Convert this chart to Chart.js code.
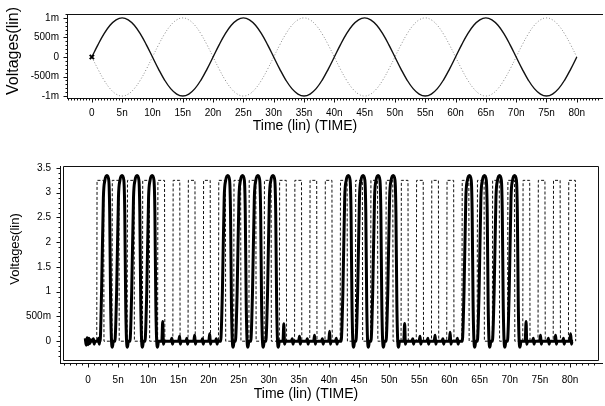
<!DOCTYPE html>
<html><head><meta charset="utf-8">
<script src="https://cdn.jsdelivr.net/npm/chart.js@4"></script>
<style>
html,body{margin:0;padding:0;background:#fff;}
body{width:605px;height:406px;position:relative;overflow:hidden;}
#c1{position:absolute;left:0;top:0;}
#c2{position:absolute;left:0;top:145px;}
</style></head><body>
<canvas id="c1" width="605" height="145"></canvas>
<canvas id="c2" width="605" height="261"></canvas>
<script>
// ---------- DATA ----------
const timeTicksNs = [0,5,10,15,20,25,30,35,40,45,50,55,60,65,70,75,80];
const timeTickLabels = ['0','5n','10n','15n','20n','25n','30n','35n','40n','45n','50n','55n','60n','65n','70n','75n','80n'];

// top chart: sampled every 1 ns (mV)
const sineTimesNs = [0,1,2,3,4,5,6,7,8,9,10,11,12,13,14,15,16,17,18,19,20,21,22,23,24,25,26,27,28,29,30,31,32,33,34,35,36,37,38,39,40,41,42,43,44,45,46,47,48,49,50,51,52,53,54,55,56,57,58,59,60,61,62,63,64,65,66,67,68,69,70,71,72,73,74,75,76,77,78,79,80];
const sineSolidMv = [0,0.31,0.59,0.81,0.95,1,0.95,0.81,0.59,0.31,0,-0.31,-0.59,-0.81,-0.95,-1,-0.95,-0.81,-0.59,-0.31,
  0,0.31,0.59,0.81,0.95,1,0.95,0.81,0.59,0.31,0,-0.31,-0.59,-0.81,-0.95,-1,-0.95,-0.81,-0.59,-0.31,
  0,0.31,0.59,0.81,0.95,1,0.95,0.81,0.59,0.31,0,-0.31,-0.59,-0.81,-0.95,-1,-0.95,-0.81,-0.59,-0.31,
  0,0.31,0.59,0.81,0.95,1,0.95,0.81,0.59,0.31,0,-0.31,-0.59,-0.81,-0.95,-1,-0.95,-0.81,-0.59,-0.31,0];
const sineDottedMv = [0,-0.31,-0.59,-0.81,-0.95,-1,-0.95,-0.81,-0.59,-0.31,0,0.31,0.59,0.81,0.95,1,0.95,0.81,0.59,0.31,
  0,-0.31,-0.59,-0.81,-0.95,-1,-0.95,-0.81,-0.59,-0.31,0,0.31,0.59,0.81,0.95,1,0.95,0.81,0.59,0.31,
  0,-0.31,-0.59,-0.81,-0.95,-1,-0.95,-0.81,-0.59,-0.31,0,0.31,0.59,0.81,0.95,1,0.95,0.81,0.59,0.31,
  0,-0.31,-0.59,-0.81,-0.95,-1,-0.95,-0.81,-0.59,-0.31,0,0.31,0.59,0.81,0.95,1,0.95,0.81,0.59,0.31,0];
const topYTicks = [-1,-0.5,0,0.5,1];
const topYTickLabels = ['-1m','-500m','0','500m','1m'];

// bottom chart: dashed clock (rising edges, ns), high level (V), high time (ns)
const clockRiseNs = [1.45,3.98,6.5,9.03,11.55,14.08,16.6,19.13,21.65,24.18,26.7,29.23,31.75,34.28,36.8,39.33,
  41.85,44.38,46.9,49.43,51.95,54.48,57.0,59.53,62.05,64.58,67.1,69.63,72.15,74.68,77.2,79.73];
const clockHighV = 3.25;
const clockHighNs = 1.15;
// bottom chart: thick output pulses (peak times, ns) and pulse outline
const pulsePeakNs = [3.15,5.65,8.15,10.65, 23.2,25.65,28.2,30.7, 43.2,45.65,48.15,50.65, 63.3,65.8,68.3,70.8];
const pulseShapeDtNs = [-1.2,-0.9,-0.6,-0.35,0,0.3,0.45,0.6,0.75,0.9,1.05];
const pulseShapeV = [0,1.0,2.9,3.25,3.35,3.25,2.6,0.8,0,-0.12,0];
// small glitches on the low level
const glitchNs = [0.9,1.75, 12.4,13.9,15.2,16.4,17.7,19.0,20.2,21.3, 32.5,33.9,35.1,36.4,37.6,38.9,40.1,41.2,
  52.55,53.9,55.1,56.4,57.6,58.9,60.1,61.3, 72.7,73.9,75.1,76.4,77.6,78.9,80.1];
const glitchV = [0.05,0.06, 0.4,0.06,0.1,0.06,0.12,0.05,0.15,0.05, 0.35,0.05,0.1,0.05,0.12,0.05,0.2,0.06,
  0.36,0.05,0.1,0.06,0.12,0.05,0.18,0.06, 0.4,0.06,0.12,0.06,0.12,0.06,0.15];
const startNoiseNs = [-0.45,-0.3,-0.15,0,0.15,0.3,0.45,0.6];
const startNoiseV = [0.06,-0.08,0.07,-0.07,0.06,-0.05,0.03,0];
const solidEndNs = 80.5;
const bottomYTicks = [0,0.5,1,1.5,2,2.5,3,3.5];
const bottomYTickLabels = ['0','500m','1','1.5','2','2.5','3','3.5'];

// ---------- BUILD ----------
const FONT = '"Liberation Sans", Arial, sans-serif';
Chart.defaults.font.family = FONT;
Chart.defaults.color = '#000';

const topSolid = sineTimesNs.map((t,i)=>({x:t,y:sineSolidMv[i]}));
const topDotted = sineTimesNs.map((t,i)=>({x:t,y:sineDottedMv[i]}));

const clockPts = [{x:0,y:0}];
clockRiseNs.forEach(r=>{
  clockPts.push({x:r,y:0},{x:r+0.05,y:clockHighV},{x:r+clockHighNs,y:clockHighV},{x:r+clockHighNs+0.05,y:0});
});

const solidPts = [];
startNoiseNs.forEach((t,i)=>solidPts.push({x:t,y:startNoiseV[i]}));
pulsePeakNs.forEach(p=>pulseShapeDtNs.forEach((d,i)=>solidPts.push({x:+(p+d).toFixed(3),y:pulseShapeV[i]})));
glitchNs.forEach((t,i)=>{
  solidPts.push({x:t-0.15,y:0},{x:t,y:glitchV[i]},{x:t+0.12,y:-0.06},{x:t+0.25,y:0});
});
solidPts.push({x:solidEndNs,y:0});
solidPts.sort((a,b)=>a.x-b.x);

function fixedTicks(vals){ return s=>{ s.ticks = vals.map(v=>({value:v})); }; }

function decor(opts){
  return {
    id:'decor',
    afterDraw(chart){
      const ctx = chart.ctx, a = chart.chartArea, xs = chart.scales.x, ys = chart.scales.y;
      ctx.save();
      ctx.strokeStyle = '#111'; ctx.lineWidth = 1;
      ctx.beginPath();
      if (opts.box){
        ctx.rect(a.left+0.5, a.top+0.5, a.right-a.left-1, a.bottom-a.top);
      } else {
        ctx.moveTo(a.left+0.5, a.top+0.5); ctx.lineTo(a.left+0.5, a.bottom+0.5);
        ctx.moveTo(a.left, a.top+0.5); ctx.lineTo(603, a.top+0.5);
      }
      const ax = a.bottom + opts.axOff + 0.5;
      const ay = a.left - opts.axOff + 0.5;
      ctx.moveTo(ay-0.5, ax); ctx.lineTo(603, ax);
      ctx.moveTo(ay, a.top); ctx.lineTo(ay, ax);
      for (let i = Math.ceil(xs.min/opts.xStep); i*opts.xStep <= xs.max; i++){
        const t = i*opts.xStep;
        const px = Math.round(xs.getPixelForValue(t))+0.5;
        const major = Math.abs(t/5 - Math.round(t/5)) < 1e-6;
        ctx.moveTo(px, ax); ctx.lineTo(px, ax + (major?4:2));
      }
      for (let i = Math.ceil(ys.min/opts.yStep); i*opts.yStep <= ys.max; i++){
        const v = i*opts.yStep;
        const py = Math.round(ys.getPixelForValue(v))+0.5;
        const major = Math.abs(v/opts.yMajor - Math.round(v/opts.yMajor)) < 1e-6;
        ctx.moveTo(ay, py); ctx.lineTo(ay - (major?4:2), py);
      }
      ctx.stroke();
      ctx.fillStyle = '#000';
      ctx.textAlign = 'center'; ctx.textBaseline = 'middle';
      ctx.font = opts.xTitleFont;
      ctx.fillText('Time (lin) (TIME)', opts.xTitlePos[0], opts.xTitlePos[1]);
      ctx.translate(opts.yTitlePos[0], opts.yTitlePos[1]);
      ctx.rotate(-Math.PI/2);
      ctx.font = opts.yTitleFont;
      ctx.fillText('Voltages(lin)', 0, 0);
      ctx.restore();
    }
  };
}

// ---------- TOP CHART ----------
new Chart(document.getElementById('c1'), {
  type:'line',
  data:{datasets:[
    {data:topSolid, borderColor:'#111', borderWidth:1.4, tension:0.4, fill:false,
     pointRadius:c=>c.dataIndex===0?3:0, pointStyle:'crossRot', pointBorderWidth:2, pointBorderColor:'#000'},
    {data:topDotted, borderColor:'#8a8a8a', borderWidth:1, borderDash:[1,2], tension:0.4, fill:false, pointRadius:0}
  ]},
  options:{
    responsive:false, animation:false, devicePixelRatio:1,
    layout:{padding:{top:7,right:7,left:0,bottom:0}},
    plugins:{legend:{display:false}, tooltip:{enabled:false}},
    scales:{
      x:{type:'linear', min:-4.1, max:83.5,
         afterBuildTicks:fixedTicks(timeTicksNs),
         afterFit:s=>{s.height=47;},
         grid:{display:false, drawTicks:false}, border:{display:false},
         ticks:{autoSkip:false, maxRotation:0, padding:9, font:{size:10}, color:'#000',
                callback:(v,i)=>timeTickLabels[i]}},
      y:{type:'linear', min:-1.05, max:1.1,
         afterBuildTicks:fixedTicks(topYTicks),
         afterFit:s=>{s.width=67;},
         grid:{display:false, drawTicks:false}, border:{display:false},
         ticks:{padding:8, font:{size:10}, color:'#000', callback:(v,i)=>topYTickLabels[i]}}
    }
  },
  plugins:[decor({box:false, axOff:0, xStep:0.5, yStep:0.1, yMajor:0.5,
    xTitleFont:'14px '+FONT, xTitlePos:[305,126], yTitleFont:'16px '+FONT, yTitlePos:[14,51]})]
});

// ---------- BOTTOM CHART ----------
new Chart(document.getElementById('c2'), {
  type:'line',
  data:{datasets:[
    {data:solidPts, borderColor:'#000', borderWidth:3, cubicInterpolationMode:'monotone', fill:false, pointRadius:0},
    {data:clockPts, borderColor:'#111', borderWidth:1, borderDash:[3,2], tension:0, fill:false, pointRadius:0}
  ]},
  options:{
    responsive:false, animation:false, devicePixelRatio:1,
    layout:{padding:{top:21,right:6,left:0,bottom:0}},
    plugins:{legend:{display:false}, tooltip:{enabled:false}},
    scales:{
      x:{type:'linear', min:-4.15, max:84.8,
         afterBuildTicks:fixedTicks(timeTicksNs),
         afterFit:s=>{s.height=46;},
         grid:{display:false, drawTicks:false}, border:{display:false},
         ticks:{autoSkip:false, maxRotation:0, padding:14, font:{size:10}, color:'#000',
                callback:(v,i)=>timeTickLabels[i]}},
      y:{type:'linear', min:-0.38, max:3.54,
         afterBuildTicks:fixedTicks(bottomYTicks),
         afterFit:s=>{s.width=63;},
         grid:{display:false, drawTicks:false}, border:{display:false},
         ticks:{padding:12, font:{size:10}, color:'#000', callback:(v,i)=>bottomYTickLabels[i]}}
    }
  },
  plugins:[decor({box:true, axOff:3, xStep:1, yStep:0.1, yMajor:0.5,
    xTitleFont:'14px '+FONT, xTitlePos:[306,249], yTitleFont:'13px '+FONT, yTitlePos:[15,104]})]
});
</script>
</body></html>
